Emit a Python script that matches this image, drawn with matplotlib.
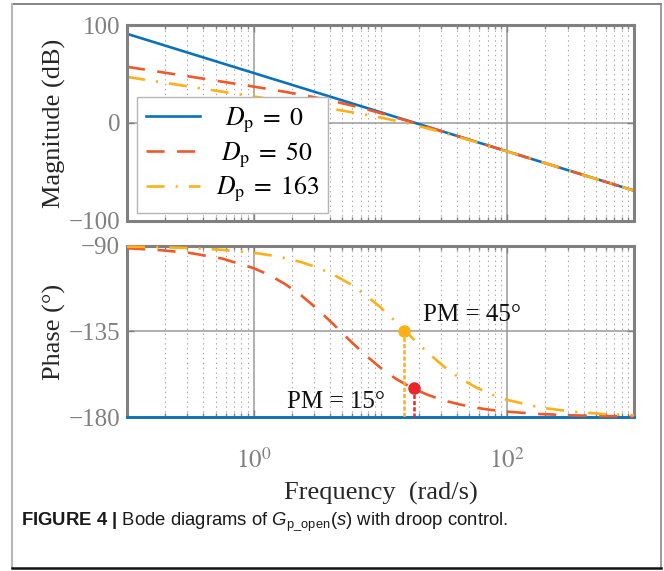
import matplotlib
matplotlib.use('Agg')
import matplotlib.pyplot as plt
from matplotlib.lines import Line2D
from matplotlib.ticker import NullFormatter

# ---------------- data ----------------
freq = [0.1, 0.178, 0.316, 0.562, 1.0, 1.33, 1.78, 2.37, 3.16, 4.22, 5.62, 7.5,
        10.0, 13.3, 17.8, 23.7, 31.6, 42.2, 56.2, 75.0, 100, 178, 316, 562, 1000]

mag_dp0 = [91, 81, 71, 61, 51, 46, 41, 36, 31, 26, 21, 16, 11, 6, 1, -4, -9,
           -14, -19, -24, -29, -39, -49, -59, -69]
mag_dp50 = [57.3, 52.3, 47.3, 42.2, 37.1, 34.5, 31.7, 28.9, 25.7, 22.3, 18.6,
            14.5, 10.1, 5.5, 0.7, -4.2, -9.1, -14.1, -19.0, -24.0, -29.0, -39.0,
            -49.0, -59.0, -69.0]
mag_dp163 = [47.0, 42.0, 37.0, 32.0, 27.0, 24.5, 22.0, 19.4, 16.9, 14.2, 11.5,
             8.6, 5.6, 2.2, -1.5, -5.6, -10.0, -14.6, -19.3, -24.2, -29.1, -39.0,
             -49.0, -59.0, -69.0]

phase_dp0 = [-180] * 25
phase_dp50 = [-91.2, -92.1, -93.7, -96.6, -101.7, -105.3, -110.2, -116.0, -123.1,
              -131.0, -139.2, -147.1, -154.1, -160.0, -164.8, -168.4, -171.3,
              -173.4, -175.1, -176.3, -177.2, -178.4, -179.1, -179.5, -179.7]
phase_dp163 = [-90.4, -90.6, -91.1, -92.0, -93.6, -94.8, -96.4, -98.5, -101.3,
               -104.95, -109.6, -115.4, -122.3, -130.1, -138.4, -146.3, -153.4,
               -159.5, -164.3, -168.1, -171.0, -174.9, -177.1, -178.4, -179.1]

series_labels = [r"$\enspace D_{\mathrm{p}}\;=\;0$", r"$\;D_{\mathrm{p}}\;=\;50$",
                 r"$D_{\mathrm{p}}\;=\;163$"]

pm_freq = [15.3, 18.3]
pm_phase = [-135, -165]
pm_text = ["PM = 45°", "PM = 15°"]
pm_text_pos = [(21.7, -126.3), (1.82, -172.0)]

xmajor = [1, 100]
xmajor_labels = [r"$10^{0}$", r"$10^{2}$"]
mag_ticks = [-100, 0, 100]
phase_ticks = [-180, -135, -90]

# ---------------- style ----------------
plt.rcParams['font.family'] = ['Liberation Serif', 'DejaVu Serif']
plt.rcParams['mathtext.fontset'] = 'stix'
plt.rcParams['mathtext.rm'] = 'Liberation Sans'
plt.rcParams['mathtext.it'] = 'Liberation Sans:italic'
plt.rcParams['mathtext.bf'] = 'Liberation Sans:bold'
plt.rcParams['lines.scale_dashes'] = False

BLUE = '#0A72BD'
ORANGE = '#F0582A'
YELLOW = '#FDB018'
RED = '#E8262B'
GRAY = '#808080'

styles = [dict(color=BLUE, ls='-'),
          dict(color=ORANGE, ls=(0, (13, 9))),
          dict(color=YELLOW, ls=(0, (13, 8, 1.5, 8)))]

fig = plt.figure(figsize=(6.64, 5.71), dpi=100)
ax1 = fig.add_axes([0.1913, 0.6130, 0.7635, 0.3432])
ax2 = fig.add_axes([0.1913, 0.2697, 0.7635, 0.2995])

minor = [m * d for d in (0.1, 1, 10, 100) for m in range(2, 10)] + [10, 1000]


def style(ax):
    ax.set_xscale('log')
    ax.set_xlim(0.1, 1000)
    ax.set_xticks(xmajor)
    ax.set_xticks(minor, minor=True)
    ax.xaxis.set_minor_formatter(NullFormatter())
    ax.set_axisbelow(True)
    ax.grid(which='major', axis='both', color='#9a9a9a', lw=1.1, ls='-')
    ax.grid(which='minor', axis='x', color='#a8a8a8', lw=0.8, ls=(0, (1, 2.5)))
    for s in ax.spines.values():
        s.set_color(GRAY)
        s.set_linewidth(2.2)
    ax.tick_params(which='both', direction='in', top=True, right=True,
                   colors=GRAY, labelsize=18, labelcolor=GRAY)
    ax.tick_params(which='major', length=5, width=1)
    ax.tick_params(which='minor', length=3, width=1)
    ax.tick_params(axis='y', pad=5)


style(ax1)
style(ax2)

mags = [mag_dp0, mag_dp50, mag_dp163]
phases = [phase_dp0, phase_dp50, phase_dp163]
handles = []
for m, st in zip(mags, styles):
    h, = ax1.plot(freq, m, lw=1.9, **st)
    handles.append(h)
for p, st in zip(phases, styles):
    ax2.plot(freq, p, lw=1.9, clip_on=False, zorder=5, **st)

ax1.set_ylim(-100, 100)
ax1.set_yticks(mag_ticks)
ax1.tick_params(axis='x', labelbottom=False)
ax2.set_ylim(-180, -90)
ax2.set_yticks(phase_ticks)
ax2.set_xticklabels(xmajor_labels)
ax2.tick_params(axis='x', pad=22)

ax1.set_ylabel('Magnitude (dB)', fontsize=19, color='#262626')
ax2.set_ylabel('Phase (°)', fontsize=19, color='#262626')
ax1.yaxis.set_label_coords(-0.12, 0.5)
ax2.yaxis.set_label_coords(-0.12, 0.5)
ax2.set_xlabel('Frequency  (rad/s)', fontsize=19, color='#262626', labelpad=7)

leg = ax1.legend(handles, series_labels, loc='lower left',
                 bbox_to_anchor=(0.02, 0.04), borderaxespad=0, fontsize=18.5,
                 frameon=True, fancybox=False, edgecolor='#b5b5b5',
                 framealpha=1, handlelength=2.1, handletextpad=0.6,
                 labelspacing=0.2, borderpad=0.35)
leg.get_frame().set_linewidth(1.0)

# phase-margin markers
mcolors = [YELLOW, RED]
for f, ph, c in zip(pm_freq, pm_phase, mcolors):
    ax2.plot([f, f], [ph, -180], color=c, lw=1.8, ls=(0, (3, 1.5)), zorder=6,
             clip_on=False)
    ax2.plot([f], [ph], 'o', color=c, ms=8, zorder=7)
for t, (x, y) in zip(pm_text, pm_text_pos):
    ax2.text(x, y, t, fontsize=18, color='#111111', ha='left', va='center',
             zorder=8)

# caption
fig.text(21 / 664, 1 - 522 / 571,
         r"$\mathbf{FIGURE\ 4\ |}$ Bode diagrams of $G_{\mathrm{p\_open}}(s)$ with droop control.",
         fontsize=13.3, family='Liberation Sans', math_fontfamily='custom',
         va='center', ha='left', color='#1a1a1a')

# figure frame
W, H = 664, 571
fig.add_artist(Line2D([12 / W, 661 / W], [1 - 4 / H] * 2, transform=fig.transFigure,
                      color='#6e6e6e', lw=1.2))
fig.add_artist(Line2D([12 / W, 12 / W], [1 - 4 / H, 1 - 568 / H],
                      transform=fig.transFigure, color='#b8b8b8', lw=1.5))
fig.add_artist(Line2D([661 / W, 661 / W], [1 - 4 / H, 1 - 568 / H],
                      transform=fig.transFigure, color='#8a8a8a', lw=1.2))
fig.add_artist(Line2D([12 / W, 661 / W], [1 - 568 / H] * 2,
                      transform=fig.transFigure, color='#111111', lw=1.8))

fig.savefig('out.png', dpi=100)
